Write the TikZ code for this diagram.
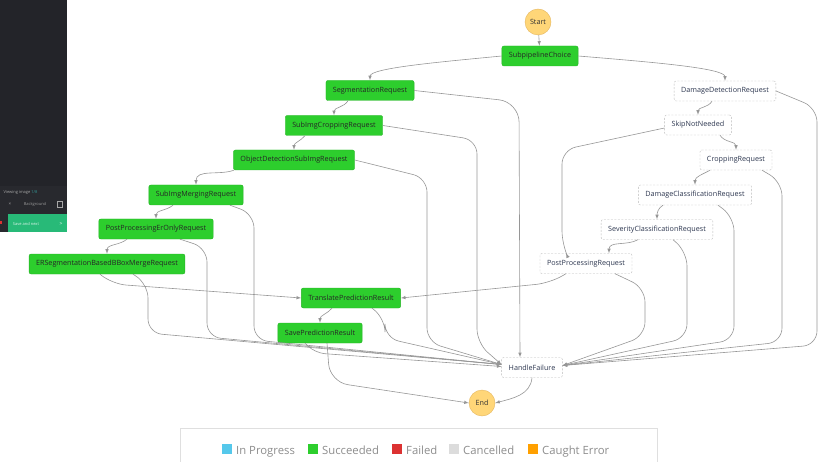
\documentclass[tikz,border=0pt]{standalone}
\usepackage{fontspec}
\setmainfont{Open Sans}
\usetikzlibrary{positioning}
\definecolor{okgreen}{RGB}{45,206,45}
\definecolor{okedge}{RGB}{38,178,38}
\definecolor{termfill}{RGB}{255,214,120}
\definecolor{termedge}{RGB}{228,182,95}
\definecolor{linegray}{RGB}{150,150,150}
\definecolor{textblue}{RGB}{45,55,80}
\definecolor{panel}{RGB}{35,36,41}
\definecolor{panelbot}{RGB}{40,41,46}
\definecolor{btngreen}{RGB}{40,186,120}
\definecolor{inprog}{RGB}{85,200,235}
\definecolor{failred}{RGB}{220,50,50}
\definecolor{cancelgray}{RGB}{220,220,220}
\definecolor{caught}{RGB}{255,160,0}

\begin{document}
\begin{tikzpicture}[x=1pt,y=-1pt,
every node/.style={font=\fontsize{7.2}{8}\selectfont},
ok/.style={rounded corners=2pt,draw=okedge,fill=okgreen,minimum height=20pt,inner xsep=7pt,text=black!85},
pend/.style={rounded corners=2pt,draw=gray!55,dash pattern=on 2pt off 1.5pt,fill=white,minimum height=20pt,inner xsep=7pt,text=textblue},
term/.style={circle,draw=termedge,fill=termfill,minimum size=26pt,inner sep=0pt,text=black!80},
flow/.style={draw=linegray,line width=0.6pt,-latex},
fail/.style={flow,rounded corners=14pt},
legtxt/.style={font=\fontsize{11.3}{13}\selectfont,text=gray!90,anchor=base west,inner sep=0pt}]
\useasboundingbox (0,0) rectangle (818,462);

% side panel of the screenshot
\begin{scope}
\clip (0,0) rectangle (67,232);
\fill[panel] (0,0) rectangle (67,232);
\fill[panelbot] (0,186) rectangle (67,232);
\node[anchor=east,font=\fontsize{4}{5}\selectfont,text=gray!70] (imgcnt) at (41,193) {Viewing image \textcolor{teal!80}{1/8}};
\node[font=\fontsize{4.5}{5}\selectfont,text=gray!70] (bgx) at (10,204) {×};
\node[font=\fontsize{4}{5}\selectfont,text=gray!80] (bg) at (35,204) {Background};
\draw[gray!70,line width=0.4pt] (57,201) rectangle (62,207);
\fill[btngreen] (8,214) rectangle (67,232);
\fill[failred] (0,221) rectangle (2,224);
\node[font=\fontsize{4}{5}\selectfont,text=white!85!btngreen] (save) at (26,224) {Save and next};
\node[font=\fontsize{5}{5}\selectfont,text=white] (nxt) at (61,223.5) {>};
\end{scope}

% states
\node[term] (start) at (538,22) {Start};
\node[ok] (sub) at (540,56) {SubpipelineChoice};
\node[ok] (seg) at (370,90.5) {SegmentationRequest};
\node[ok] (sic) at (334,125.5) {SubImgCroppingRequest};
\node[ok] (odr) at (294,160) {ObjectDetectionSubImgRequest};
\node[ok] (smr) at (196,195) {SubImgMergingRequest};
\node[ok] (ppe) at (156,229) {PostProcessingErOnlyRequest};
\node[ok] (ers) at (107,264) {ERSegmentationBasedBBoxMergeRequest};
\node[ok] (tpr) at (351,298) {TranslatePredictionResult};
\node[ok] (spr) at (320,333) {SavePredictionResult};
\node[pend] (dd) at (725,91) {DamageDetectionRequest};
\node[pend] (skip) at (698,125) {SkipNotNeeded};
\node[pend] (crop) at (736,160) {CroppingRequest};
\node[pend] (dcr) at (695,195) {DamageClassificationRequest};
\node[pend] (scr) at (657,229.5) {SeverityClassificationRequest};
\node[pend] (ppr) at (586,263.5) {PostProcessingRequest};
\node[pend] (hf) at (532,367.5) {HandleFailure};
\node[term] (end) at (482,403) {End};

% main flow
\draw[flow] (start) -- (sub);
\draw[flow] (sub.west) .. controls (440,62) and (370,68) .. (seg.north);
\draw[flow] (sub.east) .. controls (650,62) and (725,68) .. (dd.north);
\foreach \a/\b/\s/\o in {seg/sic/-22/-120,sic/odr/-29/-130,odr/smr/-60/-160,smr/ppe/-23/-140,ppe/ers/-29/-140,tpr/spr/-19/-130,
 dd/skip/-13/-120,crop/dcr/-26/-150,dcr/scr/-32/-150}
 {\draw[flow] ([xshift=\s pt]\a.south) to[out=\o,in=90] (\b.north);}
\draw[flow] ([xshift=22pt]skip.south) to[out=-60,in=90] (crop.north);
\draw[flow] ([xshift=-19pt]scr.south) to[out=-150,in=90] ([xshift=23pt]ppr.north);
\draw[fail] ([yshift=-3pt]skip.west) -- (562,150) -- (562,245) -- ([xshift=-20pt]ppr.north);
\draw[fail] ([xshift=-7pt]ers.south) -- (112,284) -- (tpr.west);
\draw[fail] ([xshift=-20pt]ppr.south) -- (550,283) -- (tpr.east);
\draw[fail,rounded corners=18pt] ([xshift=7pt]spr.south) -- (330,382) -- (end.west);
\draw[flow] (hf.south) to[out=-95,in=15] (end.east);

% failure paths
\draw[fail,rounded corners=20pt] (seg.east) -- (519,102) -- ([xshift=-12pt]hf.north);
\foreach \n/\an/\s/\X/\ya/\yb in {sic/east/0/477/140/343,odr/east/0/427/178/342,smr/south/34/254/214/340,
 ppe/south/24/207/248/337,ers/south/26/148/284/333,tpr/south/21/385/318/338}
 {\draw[fail] ([xshift=\s pt]\n.\an) -- (\X,\ya) -- (\X,\yb) -- ([yshift=3pt]hf.west);}
\draw[fail,rounded corners=10pt] ([xshift=-15pt]spr.south) -- (315,353) -- ([yshift=1pt]hf.west);
\foreach \n/\an/\s/\X/\ya/\yb in {dd/east/0/817/108/345,crop/south/26/782/182/342,dcr/south/23/734/217/340,
 scr/south/16/687/252/338,ppr/south/29/645/288/336}
 {\draw[fail] ([xshift=\s pt]\n.\an) -- (\X,\ya) -- (\X,\yb) -- ([yshift=2pt]hf.east);}

% legend
\draw[gray!25,line width=0.8pt] (180,462) -- (180,428) -- (657,428) -- (657,462);
\foreach \c/\t/\x in {inprog/In Progress/222,okgreen/Succeeded/308,failred/Failed/392,cancelgray/Cancelled/449,caught/Caught Error/528}
 {\fill[\c] (\x,444) rectangle ++(10,10);
 \node[legtxt] (lg\x) at (\x+14,454.5) {\t};}
\end{tikzpicture}
\end{document}
